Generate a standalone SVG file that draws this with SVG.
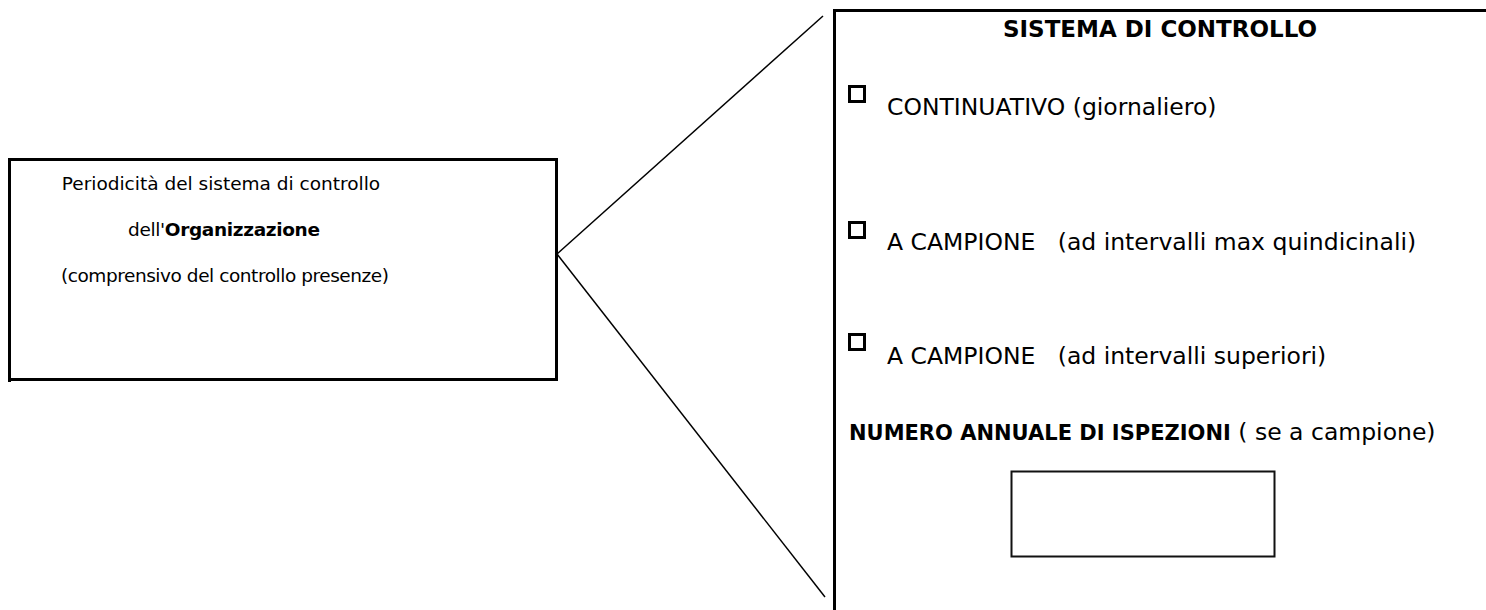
<svg xmlns="http://www.w3.org/2000/svg" width="1486" height="610" viewBox="0 0 1486 610">
<style>
text{font-family:"DejaVu Sans",sans-serif;fill:#000}
.l{font-size:18.5px}
.r{font-size:23.5px}
.b{font-weight:bold}
.c{text-anchor:middle}
.box{fill:none;stroke:#000;stroke-width:3}
.chk{fill:none;stroke:#000;stroke-width:3}
.conn{stroke:#000;stroke-width:1.5;fill:none}
</style>
<rect width="1486" height="610" fill="#fff"/>
<g id="connectors">
<line class="conn" x1="557" y1="254" x2="823" y2="16"/>
<line class="conn" x1="557" y1="254" x2="825" y2="597"/>
</g>
<g id="node-periodicita">
<rect class="box" x="9.5" y="159.5" width="547" height="220"/>
<line class="box" x1="9.5" y1="379" x2="9.5" y2="382"/>
<text class="l c" x="221" y="190">Periodicità del sistema di controllo</text>
<text class="l c" x="224" y="236" textLength="192">dell'<tspan class="b">Organizzazione</tspan></text>
<text class="l c" x="225" y="282" textLength="328">(comprensivo del controllo presenze)</text>
</g>
<g id="node-sistema">
<path class="box" d="M1490 10.5 H834.5 V612"/>
<text class="b c" x="1160" y="37" font-size="23">SISTEMA DI CONTROLLO</text>
<rect class="chk" x="849.5" y="86.5" width="15" height="15"/>
<text class="r" x="887" y="115">CONTINUATIVO (giornaliero)</text>
<rect class="chk" x="849.5" y="222.5" width="15" height="15"/>
<text class="r" x="887" y="250" xml:space="preserve">A CAMPIONE   (ad intervalli max quindicinali)</text>
<rect class="chk" x="849.5" y="334.5" width="15" height="15"/>
<text class="r" x="887" y="364" xml:space="preserve">A CAMPIONE   (ad intervalli superiori)</text>
<text x="849" y="440"><tspan class="b" font-size="21">NUMERO ANNUALE DI ISPEZIONI</tspan><tspan font-size="23.5"> ( se a campione)</tspan></text>
</g>
<g id="node-numero">
<rect x="1011.5" y="471.5" width="263" height="85" fill="none" stroke="#111" stroke-width="2"/>
</g>
</svg>
